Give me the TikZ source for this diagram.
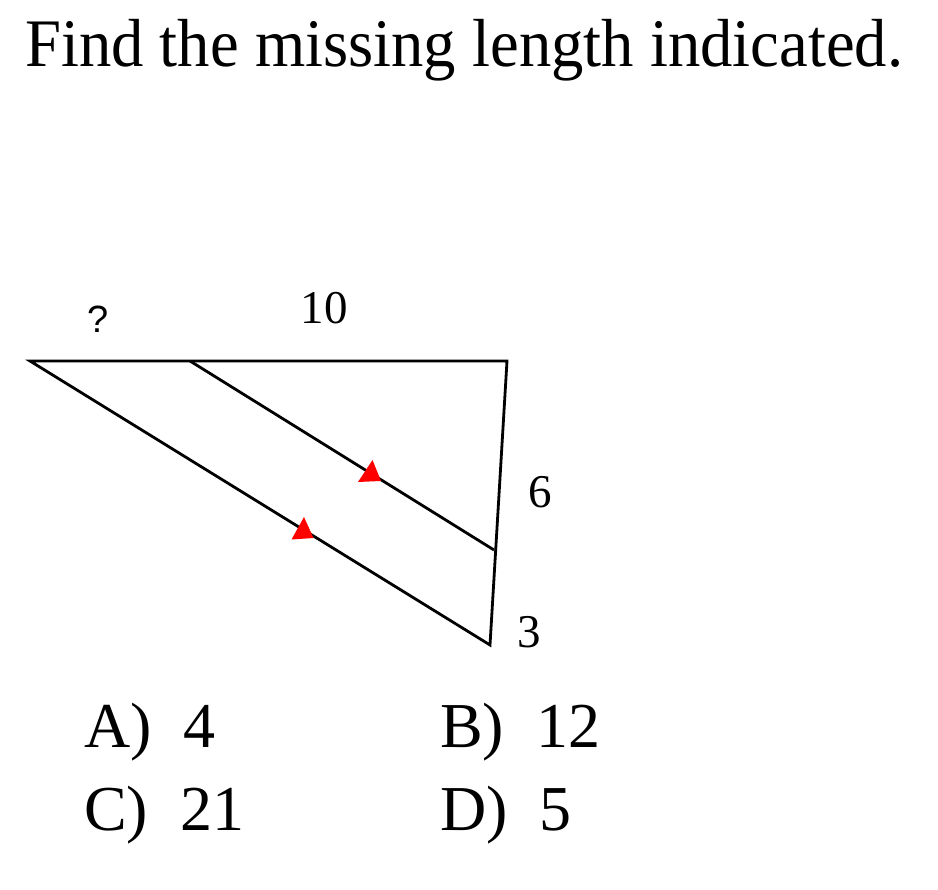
\documentclass[tikz,border=0pt]{standalone}
\usepackage{graphicx}
\usepackage{fontspec}
\setmainfont{Liberation Serif}
\newfontfamily\labsans{Liberation Sans}
\begin{document}
\begin{tikzpicture}[x=1pt,y=-1pt,
  edge/.style={line width=2.8pt, line join=miter},
  tick/.style={fill=red, draw=none},
  lab/.style={inner sep=0pt, anchor=base, font=\fontsize{47}{47}\selectfont},
  ans/.style={inner sep=0pt, anchor=base west, font=\fontsize{64}{64}\selectfont}]
\useasboundingbox (0,0) rectangle (938,890);
\node[inner sep=0pt, anchor=base west, font=\fontsize{68}{68}\selectfont] (title) at (25,67) {\resizebox{878pt}{\height}{Find the missing length indicated.}};
% vertices
\coordinate (A) at (30,361);
\coordinate (M) at (190,361);
\coordinate (B) at (507,361);
\coordinate (N) at (494,550);
\coordinate (C) at (490,645);
\draw[edge] (A) -- (B) -- (C) -- cycle;
\draw[edge] (M) -- (N);
% parallel markers
\fill[tick] (372.5,460) -- (381,481) -- (358,482) -- cycle;
\fill[tick] (304,517) -- (313.5,538) -- (291.5,539.5) -- cycle;
% labels
\node[lab, font=\labsans\fontsize{38}{38}\selectfont] (q) at (98,333) {?};
\node[lab] (ten) at (324,324) {10};
\node[lab] (six) at (540,508) {6};
\node[lab] (three) at (529,648) {3};
% answers
\node[ans] (a) at (84,747) {A)\ \ 4};
\node[ans] (b) at (440,747) {B)\ \ 12};
\node[ans] (c) at (84,830) {C)\ \ 21};
\node[ans] (d) at (440,830) {D)\ \ 5};
\end{tikzpicture}
\end{document}
